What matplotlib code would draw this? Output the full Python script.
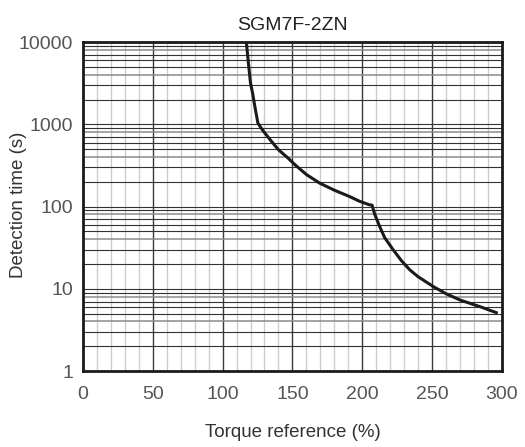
import matplotlib
matplotlib.use("Agg")
import matplotlib.pyplot as plt
import numpy as np

# values
torque = [117, 118.5, 120, 121.5, 123.1, 125.3, 127.6, 130.3, 135, 140, 147, 152, 160, 169.6,
          180, 191, 198, 205, 207, 209, 212.5, 216, 222, 228, 234, 240,
          251, 260, 270, 285, 297]
detect_time = [10000, 5500, 3150, 2380, 1640, 1030, 900, 780, 620, 490, 386, 320, 245, 192,
               158, 132, 116, 105, 104, 80, 57, 42, 30, 22, 17, 14,
               10.6, 8.7, 7.3, 6.0, 5.05]

x_ticks = [0, 50, 100, 150, 200, 250, 300]
y_ticks = [1, 10, 100, 1000, 10000]
y_tick_labels = ["1", "10", "100", "1000", "10000"]

plt.rcParams["font.family"] = ["Liberation Sans", "DejaVu Sans"]

fig = plt.figure(figsize=(5.25, 4.47), dpi=100)
ax = fig.add_axes([0.158, 0.170, 0.798, 0.736])

ax.set_yscale("log")
ax.set_xlim(0, 300)
ax.set_ylim(1, 10000)

# vertical grid: light every 10, dark every 50
for xv in range(10, 300, 10):
    if xv % 50 == 0:
        ax.axvline(xv, color="#3a3a3a", lw=1.0, zorder=1)
    else:
        ax.axvline(xv, color="#cccccc", lw=1.0, zorder=0.5)

# horizontal grid: decades and sub-decades
for dec in [1, 10, 100, 1000]:
    for m in range(1, 10):
        yv = dec * m
        if yv <= 1 or yv >= 10000:
            continue
        if m in (4, 8):
            ax.axhline(yv, color="#8c8c8c", lw=1.1, zorder=1)
        else:
            ax.axhline(yv, color="#333333", lw=0.8, zorder=1)

ax.plot(torque, detect_time, color="#1a1a1a", lw=2.2, zorder=3,
        solid_capstyle="butt", solid_joinstyle="round")

ax.set_xticks(x_ticks)
ax.set_yticks(y_ticks)
ax.set_yticklabels(y_tick_labels)
ax.yaxis.set_minor_locator(matplotlib.ticker.NullLocator())
ax.tick_params(length=0, labelsize=14, labelcolor="#555555")
ax.tick_params(axis="x", pad=11)
ax.tick_params(axis="y", pad=7)

for s in ax.spines.values():
    s.set_linewidth(2.0)
    s.set_color("#1a1a1a")
    s.set_zorder(4)

ax.set_title("SGM7F-2ZN", fontsize=14, color="#222222", pad=9)
ax.set_xlabel("Torque reference (%)", fontsize=13.5, color="#333333")
ax.set_ylabel("Detection time (s)", fontsize=13.5, color="#333333")
ax.xaxis.set_label_coords(0.5, -0.188)
ax.yaxis.set_label_coords(-0.155, 0.505)
ax.xaxis.label.set_va("center")
ax.yaxis.label.set_va("center")

fig.savefig("out.png", dpi=100)
